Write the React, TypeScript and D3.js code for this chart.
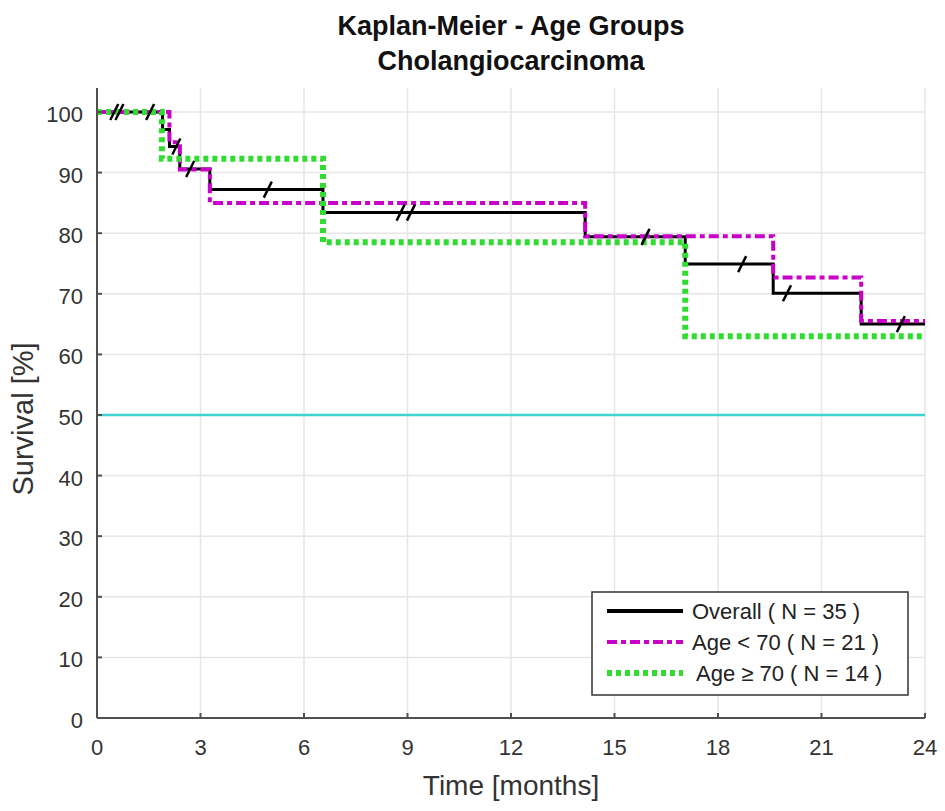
import { useEffect, useRef } from 'react';
import * as d3 from 'd3';

// step curves: [time in months, survival %]
const overallSteps: [number, number][] = [
    [0, 100], [1.9, 97.1], [2.1, 94.3], [2.4, 90.6], [3.27, 87.2], [6.55, 83.4],
    [14.15, 79.4], [17.05, 74.9], [19.6, 70.1], [22.15, 65.0], [24, 65.0],
];
const youngSteps: [number, number][] = [
    [0, 100], [2.1, 95.0], [2.4, 90.5], [3.27, 85.0], [14.15, 79.5],
    [19.6, 72.7], [22.15, 65.5], [24, 65.5],
];
const oldSteps: [number, number][] = [
    [0, 100], [1.88, 92.3], [6.55, 78.5], [17.05, 63.0], [24, 63.0],
];
// censoring marks on the overall curve
const censored: [number, number][] = [
    [0.5, 100], [0.65, 100], [1.54, 100], [2.3, 94.3], [2.7, 90.6], [4.95, 87.2],
    [8.8, 83.4], [9.1, 83.4], [15.9, 79.4], [18.7, 74.9], [20.0, 70.1], [23.3, 65.0],
];
const medianLine = 50;

const xTicks = [0, 3, 6, 9, 12, 15, 18, 21, 24];
const yTicks = [0, 10, 20, 30, 40, 50, 60, 70, 80, 90, 100];

const titleLines = ['Kaplan-Meier - Age Groups', 'Cholangiocarcinoma'];
const legendLabels = ['Overall ( N = 35 )', 'Age < 70 ( N = 21 )', 'Age \u2265 70 ( N = 14 )'];

export default function App() {
    const svgRef = useRef<SVGSVGElement>(null);

    useEffect(() => {
        if (!svgRef.current) return;
        const svg = d3.select(svgRef.current);
        svg.selectAll('*').remove();

        const font = '"Liberation Sans", Arial, sans-serif';
        const left = 97, right = 925, bottom = 718, top = 88;

        const x = d3.scaleLinear().domain([0, 24]).range([left, right]);
        const y = d3.scaleLinear().domain([0, 100]).range([bottom, 112]);

        const gridColor = '#e6e6e6';
        const axisColor = '#505050';
        const black = '#000000';
        const magenta = '#c800c8';
        const green = '#30dc30';
        const cyan = '#40d2d2';

        // grid
        xTicks.forEach(t => {
            svg.append('line')
                .attr('x1', x(t)).attr('x2', x(t))
                .attr('y1', top).attr('y2', bottom)
                .attr('stroke', gridColor).attr('stroke-width', 1.5);
        });
        yTicks.forEach(v => {
            svg.append('line')
                .attr('x1', left).attr('x2', right)
                .attr('y1', y(v)).attr('y2', y(v))
                .attr('stroke', gridColor).attr('stroke-width', 1.5);
        });

        // median reference line
        svg.append('line')
            .attr('x1', left).attr('x2', right)
            .attr('y1', y(medianLine)).attr('y2', y(medianLine))
            .attr('stroke', cyan).attr('stroke-width', 2.5);

        const step = d3.line<[number, number]>()
            .x(d => x(d[0]))
            .y(d => y(d[1]))
            .curve(d3.curveStepAfter);

        svg.append('path')
            .attr('d', step(overallSteps))
            .attr('fill', 'none')
            .attr('stroke', black)
            .attr('stroke-width', 3);

        svg.append('path')
            .attr('d', step(youngSteps))
            .attr('fill', 'none')
            .attr('stroke', magenta)
            .attr('stroke-width', 4)
            .attr('stroke-dasharray', '10,4,5,4');

        svg.append('path')
            .attr('d', step(oldSteps))
            .attr('fill', 'none')
            .attr('stroke', green)
            .attr('stroke-width', 6)
            .attr('stroke-dasharray', '5,4');

        // censor ticks
        censored.forEach(([t, v]) => {
            svg.append('line')
                .attr('x1', x(t) - 4).attr('x2', x(t) + 4)
                .attr('y1', y(v) + 8).attr('y2', y(v) - 8)
                .attr('stroke', black)
                .attr('stroke-width', 2.5);
        });

        // axes
        svg.append('line')
            .attr('x1', left).attr('x2', left)
            .attr('y1', top).attr('y2', bottom)
            .attr('stroke', axisColor).attr('stroke-width', 2);
        svg.append('line')
            .attr('x1', left).attr('x2', right)
            .attr('y1', bottom).attr('y2', bottom)
            .attr('stroke', axisColor).attr('stroke-width', 2);

        xTicks.forEach(t => {
            svg.append('line')
                .attr('x1', x(t)).attr('x2', x(t))
                .attr('y1', bottom).attr('y2', bottom - 5)
                .attr('stroke', axisColor).attr('stroke-width', 2);
            svg.append('text')
                .attr('x', x(t)).attr('y', 755)
                .attr('text-anchor', 'middle')
                .attr('font-family', font).attr('font-size', 22)
                .attr('fill', '#333')
                .text(t);
        });
        yTicks.forEach(v => {
            svg.append('line')
                .attr('x1', left).attr('x2', left + 5)
                .attr('y1', y(v)).attr('y2', y(v))
                .attr('stroke', axisColor).attr('stroke-width', 2);
            svg.append('text')
                .attr('x', 83).attr('y', y(v) + 10)
                .attr('text-anchor', 'end')
                .attr('font-family', font).attr('font-size', 22)
                .attr('fill', '#333')
                .text(v);
        });

        // axis labels
        svg.append('text')
            .attr('x', (left + right) / 2).attr('y', 795)
            .attr('text-anchor', 'middle')
            .attr('font-family', font).attr('font-size', 28)
            .attr('fill', '#333')
            .text('Time [months]');
        svg.append('text')
            .attr('transform', `translate(33, 419) rotate(-90)`)
            .attr('text-anchor', 'middle')
            .attr('font-family', font).attr('font-size', 29)
            .attr('fill', '#333')
            .text('Survival [%]');

        // title
        titleLines.forEach((s, i) => {
            svg.append('text')
                .attr('x', (left + right) / 2).attr('y', 35 + i * 35)
                .attr('text-anchor', 'middle')
                .attr('font-family', font).attr('font-size', 27)
                .attr('font-weight', 'bold')
                .attr('fill', '#111')
                .text(s);
        });

        // legend
        const lg = svg.append('g');
        lg.append('rect')
            .attr('x', 592).attr('y', 592)
            .attr('width', 316).attr('height', 103)
            .attr('fill', '#fff')
            .attr('stroke', '#333').attr('stroke-width', 1.5);
        const styles = [
            { color: black, width: 4, dash: null },
            { color: magenta, width: 4, dash: '10,4,5,4' },
            { color: green, width: 6, dash: '5,4' },
        ];
        legendLabels.forEach((label, i) => {
            const ly = 611 + i * 31;
            const st = styles[i];
            lg.append('line')
                .attr('x1', 607).attr('x2', 683)
                .attr('y1', ly).attr('y2', ly)
                .attr('stroke', st.color)
                .attr('stroke-width', st.width)
                .attr('stroke-dasharray', st.dash);
            lg.append('text')
                .attr('x', i === 2 ? 696 : 692).attr('y', ly + 8)
                .attr('font-family', font).attr('font-size', 22)
                .attr('fill', '#222')
                .text(label);
        });
    }, []);

    return (
        <svg
            ref={svgRef}
            width={945}
            height={811}
            style={{ position: 'absolute', left: 0, top: 0, background: '#fff' }}
        />
    );
}
